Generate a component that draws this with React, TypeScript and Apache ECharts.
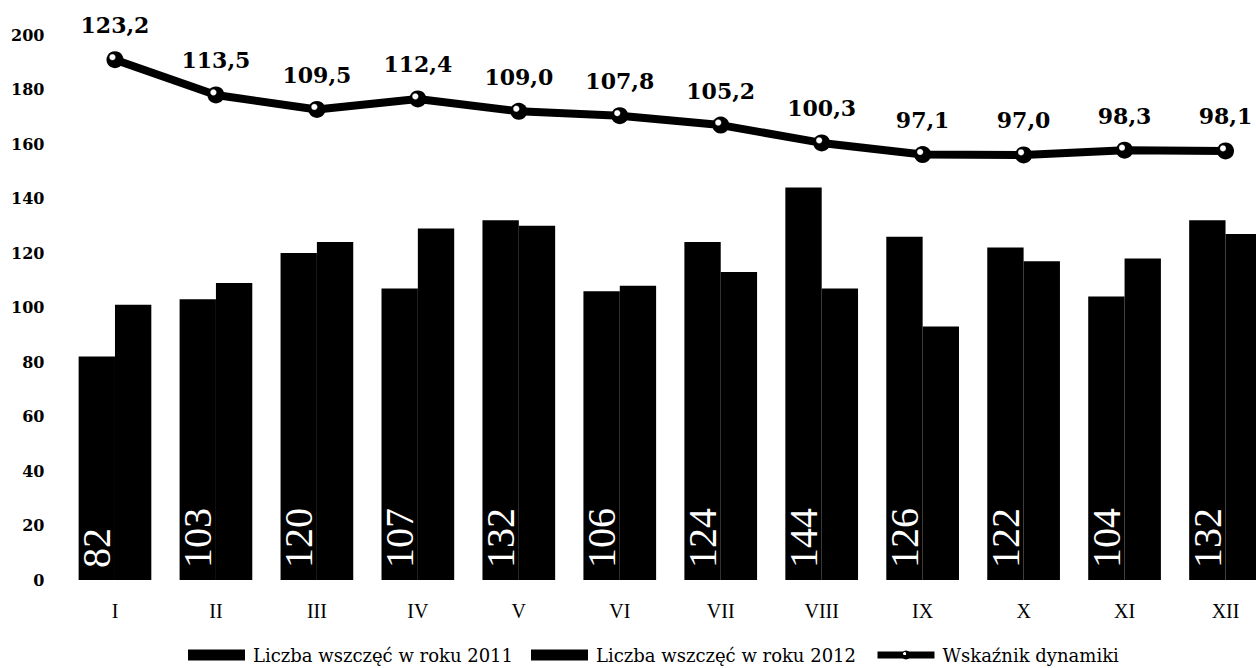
import React, { useEffect, useRef } from "react";
import * as echarts from "echarts";

const months = ["I", "II", "III", "IV", "V", "VI", "VII", "VIII", "IX", "X", "XI", "XII"];
const cases2011 = [82, 103, 120, 107, 132, 106, 124, 144, 126, 122, 104, 132];
const cases2012 = [101, 109, 124, 129, 130, 108, 113, 107, 93, 117, 118, 127];
const dynamics = [123.2, 113.5, 109.5, 112.4, 109.0, 107.8, 105.2, 100.3, 97.1, 97.0, 98.3, 98.1];
const seriesNames = ["Liczba wszczęć w roku 2011", "Liczba wszczęć w roku 2012", "Wskaźnik dynamiki"];

export default function App() {
  const ref = useRef<HTMLDivElement>(null);
  useEffect(() => {
    if (!ref.current) return;
    document.body.style.overflow = "hidden";
    const chart = echarts.init(ref.current, null, { renderer: "svg" });
    const markerFill = new echarts.graphic.RadialGradient(0.35, 0.35, 0.5, [
      { offset: 0, color: "#ffffff" },
      { offset: 0.28, color: "#ffffff" },
      { offset: 0.42, color: "#000000" },
      { offset: 1, color: "#000000" },
    ]);
    chart.setOption({
      animation: false,
      backgroundColor: "#ffffff",
      textStyle: { fontFamily: "DejaVu Serif" },
      grid: { left: 64.5, right: 0, top: 35, bottom: 88 },
      legend: {
        left: 183,
        top: 641,
        itemWidth: 57,
        itemHeight: 11,
        itemGap: 18,
        data: [
          { name: seriesNames[0], icon: "rect" },
          { name: seriesNames[1], icon: "rect" },
          { name: seriesNames[2], lineStyle: { width: 7, color: "#000" } },
        ],
        textStyle: {
          fontFamily: "DejaVu Serif",
          fontSize: 18,
          color: "#000",
          padding: [0, 0, 0, 3],
        },
      },
      xAxis: {
        type: "category",
        data: months,
        axisLine: { show: false },
        axisTick: { show: false },
        axisLabel: { color: "#000", fontFamily: "Liberation Serif", fontSize: 20, margin: 21 },
      },
      yAxis: [
        {
          type: "value",
          min: 0,
          max: 200,
          interval: 20,
          splitLine: { show: false },
          axisLine: { show: false },
          axisTick: { show: false },
          axisLabel: {
            color: "#000",
            fontFamily: "DejaVu Serif",
            fontWeight: "bold",
            fontSize: 16,
            margin: 20,
          },
        },
        { type: "value", min: -20, max: 130, show: false, splitLine: { show: false } },
      ],
      series: [
        {
          name: seriesNames[0],
          type: "bar",
          data: cases2011,
          barGap: "0%",
          barCategoryGap: "28%",
          itemStyle: { color: "#000" },
          label: {
            show: true,
            position: "insideBottom",
            rotate: 90,
            align: "left",
            verticalAlign: "middle",
            distance: 8,
            offset: [4, 0],
            color: "#fff",
            fontFamily: "Liberation Serif",
            fontSize: 40,
          },
        },
        {
          name: seriesNames[1],
          type: "bar",
          data: cases2012,
          itemStyle: { color: "#000" },
        },
        {
          name: seriesNames[2],
          type: "line",
          yAxisIndex: 1,
          data: dynamics,
          z: 5,
          symbol: "circle",
          symbolSize: 17,
          lineStyle: { color: "#000", width: 8 },
          itemStyle: { color: markerFill, borderColor: "#000", borderWidth: 0 },
          label: {
            show: true,
            position: "top",
            distance: 15,
            color: "#000",
            fontFamily: "DejaVu Serif",
            fontWeight: "bold",
            fontSize: 22,
            formatter: (p: any) => p.value.toFixed(1).replace(".", ","),
          },
        },
      ],
    });
    return () => chart.dispose();
  }, []);
  return (
    <div
      ref={ref}
      style={{ position: "fixed", left: 0, top: 0, width: 1276, height: 668 }}
    />
  );
}
